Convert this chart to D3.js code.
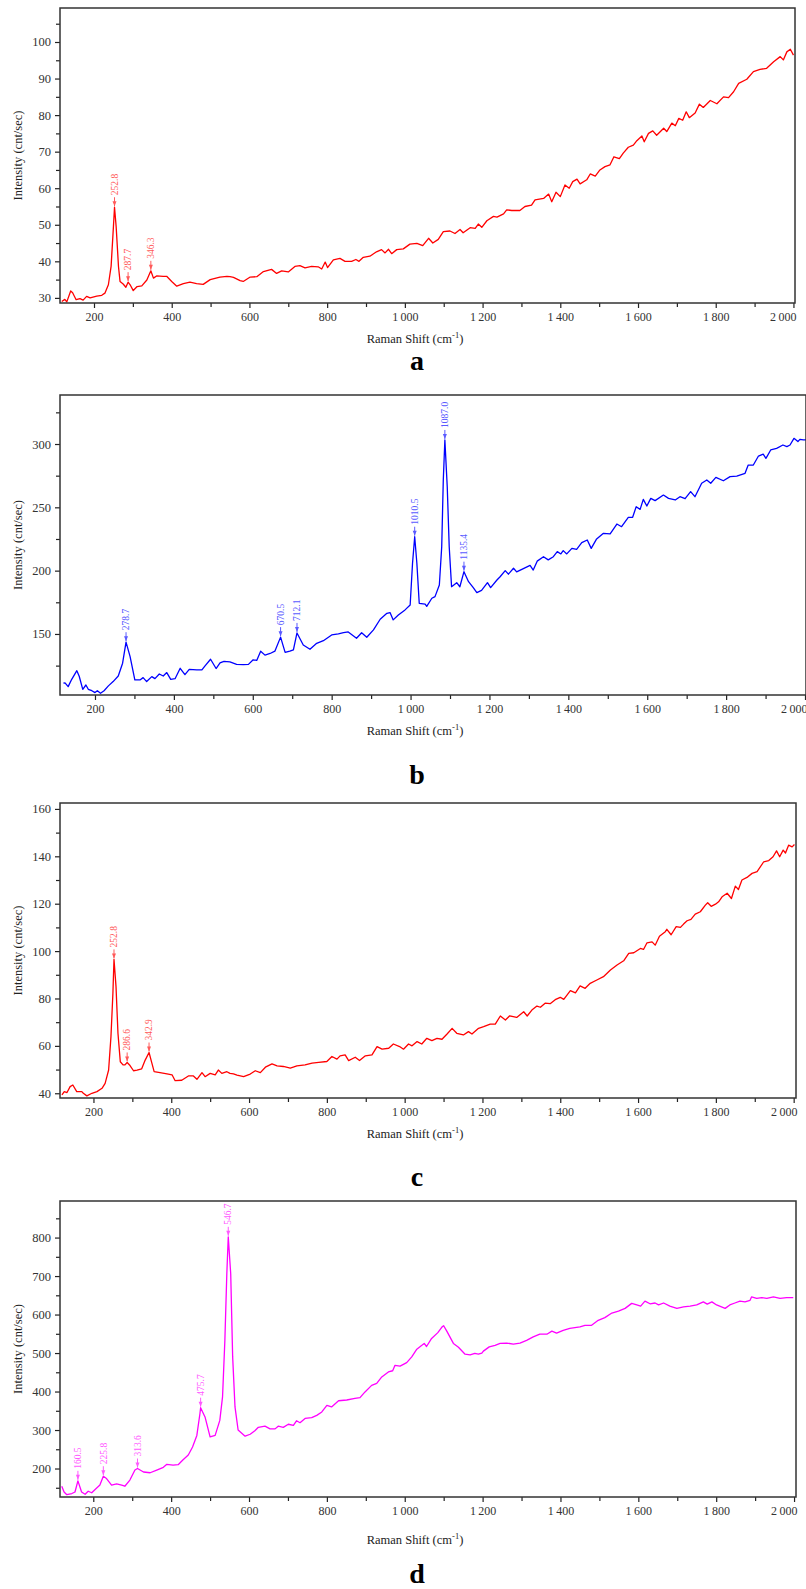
<!DOCTYPE html>
<html>
<head>
<meta charset="utf-8">
<script src="https://cdn.jsdelivr.net/npm/d3@7"></script>
<style>
  html, body { margin: 0; padding: 0; background: #fff; }
  svg { display: block; }
  text { font-family: "Liberation Serif", "DejaVu Serif", serif; }
</style>
</head>
<body>
<svg id="chart" width="806" height="1589"></svg>
<script>
// Four Raman spectra (a–d).
// Each entry: [Raman shift (cm-1), intensity (cnt/sec)]

const spectrumA = [
  [117,29.0],[125,29.6],[130,28.9],[140,31.9],[145,31.4],[154,29.5],[164,29.8],[172,29.4],[181,30.4],[190,30.0],
  [207,30.5],[220,30.7],[228,31.3],[237,33.6],[244,38.6],[250,49.5],[252.8,54.8],[257,49.5],[263,38.6],[267,34.5],
  [275,33.8],[282,32.9],[287.7,34.3],[294,33.4],[301,32.0],[311,33.1],[323,33.3],[336,34.9],[346.3,37.4],[353,35.4],
  [361,36.0],[378,35.9],[387,35.9],[400,34.5],[413,33.2],[430,33.9],[447,34.3],[464,33.9],[481,33.7],[499,35.0],
  [524,35.7],[542,35.9],[550,35.8],[559,35.6],[576,34.7],[584,34.5],[602,35.7],[619,35.8],[636,37.2],[657,37.8],
  [670,36.7],[683,37.4],[700,37.1],[717,38.6],[730,38.8],[743,38.2],[760,38.6],[777,38.5],[786,37.9],[795,39.8],
  [801,38.3],[816,40.4],[833,40.8],[846,40.0],[863,40.0],[874,40.5],[882,40.0],[893,41.1],[910,41.4],[927,42.6],
  [940,43.2],[949,42.3],[958,43.3],[966,42.1],[979,43.2],[996,43.4],[1013,44.7],[1031,44.9],[1046,44.3],[1061,46.3],
  [1072,45.0],[1086,46.0],[1099,48.1],[1116,48.3],[1129,47.6],[1142,48.7],[1150,47.8],[1168,49.2],[1181,49.0],[1189,50.2],
  [1198,49.3],[1211,51.1],[1228,52.3],[1237,52.1],[1254,53.0],[1262,54.1],[1275,53.9],[1296,53.9],[1309,55.0],[1326,55.4],
  [1335,56.8],[1357,57.2],[1370,58.4],[1378,56.3],[1389,58.9],[1400,57.7],[1412,60.9],[1423,60.0],[1432,61.8],[1443,62.5],
  [1451,61.2],[1468,62.3],[1477,63.9],[1490,63.3],[1502,65.0],[1515,65.9],[1528,66.4],[1538,68.6],[1552,68.1],[1562,69.6],
  [1575,71.2],[1588,71.8],[1597,73.0],[1610,74.3],[1616,72.7],[1627,75.0],[1638,75.7],[1648,74.5],[1666,76.4],[1674,75.5],
  [1687,77.8],[1696,77.1],[1705,79.1],[1715,78.6],[1724,80.9],[1732,79.3],[1747,80.6],[1758,83.0],[1768,82.1],[1786,84.0],
  [1803,83.1],[1820,85.0],[1833,84.8],[1846,86.4],[1859,88.7],[1880,89.8],[1897,91.9],[1914,92.5],[1931,92.8],[1949,94.6],
  [1966,96.0],[1974,95.1],[1983,97.3],[1992,98.0],[2000,96.4]
];
const peaksA = [[252.8,54.8],[287.7,34.3],[346.3,37.4]];

const spectrumB = [
  [120,111.1],[124,111.4],[132,108.4],[141,114.2],[154,121.0],[160,116.6],[169,106.3],[177,109.7],[183,106.3],[192,105.2],
  [200,103.7],[206,105.2],[214,103.2],[223,105.2],[234,109.0],[246,112.4],[259,116.8],[270,126.9],[278.7,143.5],[289,132.1],
  [301,113.7],[314,113.7],[322,115.5],[331,112.4],[344,116.3],[352,114.7],[363,118.4],[373,116.8],[382,119.5],[392,114.2],
  [403,114.7],[416,122.9],[428,117.9],[439,122.1],[458,121.6],[471,121.6],[479,124.8],[493,130.0],[507,122.7],[517,127.1],
  [527,128.4],[542,127.9],[559,126.0],[576,125.8],[589,126.0],[601,129.6],[610,129.1],[620,136.4],[631,133.3],[644,134.6],
  [656,136.4],[670.5,147.5],[682,135.5],[694,136.4],[703,137.5],[712.1,150.8],[728,141.3],[745,137.9],[762,142.6],[779,144.7],
  [800,149.2],[817,150.0],[830,151.0],[842,151.6],[863,146.6],[876,151.0],[889,147.4],[906,153.2],[923,161.6],[940,166.3],
  [948,166.9],[956,161.1],[969,165.0],[986,169.0],[999,172.9],[1005,205.8],[1010.5,226.8],[1016,205.8],[1022,174.2],[1037,173.5],
  [1041,171.8],[1054,178.2],[1062,179.5],[1073,188.7],[1079,218.9],[1083,271.6],[1087,303.2],[1093,266.3],[1098,218.9],[1104,187.3],
  [1117,190.5],[1125,187.3],[1135.4,199.2],[1147,191.3],[1159,186.6],[1168,182.6],[1180,184.4],[1195,190.5],[1203,186.6],[1219,192.6],
  [1227,195.2],[1240,200.0],[1248,197.2],[1261,201.9],[1269,199.0],[1286,201.6],[1303,204.1],[1311,200.5],[1321,207.5],[1337,211.0],
  [1349,208.5],[1362,211.0],[1372,215.0],[1381,213.2],[1387,215.8],[1396,213.2],[1409,217.6],[1421,216.8],[1434,222.1],[1448,224.2],
  [1458,217.6],[1471,224.7],[1489,229.5],[1506,229.0],[1523,236.8],[1535,234.7],[1552,242.1],[1563,242.1],[1572,250.5],[1582,248.4],
  [1590,256.3],[1599,251.0],[1609,257.1],[1620,255.3],[1641,259.7],[1654,257.1],[1671,255.8],[1683,258.4],[1696,256.8],[1710,262.4],
  [1721,258.4],[1738,269.0],[1751,271.6],[1761,269.0],[1774,273.7],[1793,271.0],[1810,274.2],[1827,274.7],[1848,276.9],[1856,283.4],
  [1869,283.4],[1882,290.5],[1894,292.0],[1901,288.7],[1913,295.3],[1928,296.6],[1944,299.2],[1954,297.9],[1962,299.2],[1972,304.5],
  [1982,301.9],[1987,303.7],[1996,303.2],[2003,303.2]
];
const peaksB = [[278.7,143.5],[670.5,147.5],[712.1,150.8],[1010.5,226.8],[1087.0,303.2],[1135.4,199.2]];

const spectrumC = [
  [119,39.3],[125,40.7],[132,40.3],[140,42.8],[147,43.5],[157,40.7],[170,40.7],[174,40.0],[183,38.9],[196,40.0],
  [209,40.7],[222,42.1],[230,44.2],[239,49.8],[245,63.9],[250,82.2],[252.8,96.5],[258,85.0],[263,65.3],[269,53.3],
  [276,52.0],[281,52.0],[286.6,53.0],[294,51.7],[303,49.5],[312,49.8],[324,50.3],[333,54.0],[342.9,57.2],[350,52.8],
  [356,49.1],[371,48.7],[389,48.2],[402,47.8],[410,45.3],[427,45.5],[444,47.3],[457,47.3],[466,45.9],[479,48.7],
  [487,47.0],[500,48.4],[513,47.8],[521,49.8],[530,48.4],[543,49.1],[551,48.4],[560,48.2],[569,47.7],[586,47.0],
  [603,48.1],[616,49.5],[629,48.7],[642,51.0],[659,52.4],[672,51.6],[688,51.3],[706,50.6],[723,51.6],[744,52.0],
  [762,52.7],[779,53.0],[800,53.4],[813,55.5],[826,54.4],[834,55.8],[847,56.2],[856,53.8],[873,55.2],[884,53.8],
  [899,55.8],[916,56.2],[929,59.7],[942,58.6],[959,59.0],[971,60.8],[987,59.7],[997,58.6],[1010,60.8],[1019,60.0],
  [1032,61.8],[1044,60.8],[1057,63.2],[1070,62.2],[1083,63.2],[1096,62.8],[1109,65.0],[1122,67.4],[1134,65.3],[1151,64.6],
  [1164,66.0],[1173,65.0],[1190,67.4],[1203,68.1],[1220,69.2],[1233,69.2],[1246,72.6],[1259,70.9],[1270,72.7],[1288,72.0],
  [1306,74.4],[1315,72.6],[1327,75.1],[1340,76.8],[1349,76.3],[1361,78.0],[1374,77.8],[1387,79.5],[1400,80.5],[1409,79.6],
  [1426,83.3],[1439,82.4],[1451,85.3],[1464,84.3],[1477,86.4],[1494,87.8],[1511,89.2],[1529,92.0],[1546,94.1],[1563,95.9],
  [1576,99.0],[1589,99.3],[1606,101.1],[1614,100.7],[1623,103.5],[1636,103.9],[1644,102.5],[1655,106.3],[1670,108.2],[1674,109.2],
  [1685,106.9],[1698,110.3],[1709,110.0],[1717,111.4],[1726,112.8],[1736,113.4],[1747,115.6],[1760,116.6],[1773,119.4],[1779,120.4],
  [1788,118.9],[1799,119.8],[1807,120.8],[1816,122.9],[1829,124.4],[1840,122.2],[1850,127.4],[1858,126.0],[1867,130.0],[1880,131.1],
  [1893,132.8],[1906,133.5],[1923,137.7],[1936,138.2],[1947,139.8],[1956,142.3],[1964,139.8],[1973,142.6],[1979,141.4],[1987,144.7],
  [1996,144.0],[2002,145.0]
];
const peaksC = [[252.8,96.5],[286.6,53.0],[342.9,57.2]];

const spectrumD = [
  [119,154],[125,139],[132,132],[145,135],[153,139],[160.5,168],[170,139],[179,133],[187,141],[196,137],
  [204,145],[217,157],[225.8,180],[234,174],[247,157],[260,160],[273,157],[281,154],[294,170],[307,196],
  [313.6,200],[329,191],[346,189],[363,196],[380,203],[389,211],[405,209],[418,210],[430,222],[444,235],
  [455,256],[466,286],[474,343],[475.7,358],[487,334],[500,282],[513,286],[525,325],[532,386],[538,533],
  [543,706],[546.7,802],[553,706],[558,490],[564,360],[572,300],[590,284],[603,289],[615,298],[624,307],
  [641,310],[654,303],[667,303],[675,310],[688,307],[701,315],[714,312],[722,324],[731,319],[744,330],
  [761,332],[774,338],[787,347],[800,364],[812,360],[830,376],[851,378],[872,382],[885,384],[898,399],
  [915,416],[928,421],[941,438],[958,451],[969,454],[975,468],[988,466],[1005,475],[1018,490],[1031,510],
  [1044,520],[1050,525],[1056,517],[1069,538],[1085,553],[1096,568],[1100,571],[1108,557],[1125,525],[1138,515],
  [1155,497],[1168,495],[1180,499],[1189,497],[1198,500],[1202,505],[1217,516],[1232,520],[1245,525],[1262,526],
  [1279,523],[1296,526],[1313,533],[1330,542],[1347,549],[1365,549],[1378,557],[1390,552],[1407,559],[1424,564],
  [1450,568],[1463,572],[1480,572],[1497,585],[1514,592],[1532,604],[1549,609],[1566,616],[1583,629],[1596,625],
  [1606,622],[1617,635],[1630,628],[1643,630],[1652,625],[1665,630],[1681,622],[1699,616],[1716,620],[1733,622],
  [1750,625],[1767,633],[1777,627],[1789,633],[1801,625],[1823,616],[1835,625],[1848,630],[1861,635],[1874,633],
  [1887,637],[1891,646],[1904,642],[1917,644],[1930,642],[1947,646],[1964,642],[1981,644],[1998,644]
];
const peaksD = [[160.5,168],[225.8,180],[313.6,200],[475.7,358],[546.7,802]];

// Axis ticks
const xMajorTicks = [200, 400, 600, 800, 1000, 1200, 1400, 1600, 1800, 2000];
const xMinorTicks = [100, 300, 500, 700, 900, 1100, 1300, 1500, 1700, 1900];
const yTicksA = [30, 40, 50, 60, 70, 80, 90, 100];
const yMinorA = [35, 45, 55, 65, 75, 85, 95, 105];
const yTicksB = [150, 200, 250, 300];
const yMinorB = [125, 175, 225, 275, 325];
const yTicksC = [40, 60, 80, 100, 120, 140, 160];
const yMinorC = [50, 70, 90, 110, 130, 150];
const yTicksD = [200, 300, 400, 500, 600, 700, 800];
const yMinorD = [150, 250, 350, 450, 550, 650, 750, 850];

const panelLetters = ['a', 'b', 'c', 'd'];
const yAxisTitle = 'Intensity (cnt/sec)';

// ── layout ──────────────────────────────────────────────────────────────────
const PLOT_LEFT = 60;
const LABEL_X = 415;
const panels = [
  { data: spectrumA, peaks: peaksA, color: '#ff0000', peakColor: '#ff5a5a',
    xDomain: [112.5, 2004], yDomain: [28.6, 109.3], yTicks: yTicksA, yMinor: yMinorA,
    top: 8, bottom: 303, right: 795, xTitleY: 343, letterY: 370 },
  { data: spectrumB, peaks: peaksB, color: '#0000ff', peakColor: '#5a5aff',
    xDomain: [111.3, 2002.5], yDomain: [101.8, 338.7], yTicks: yTicksB, yMinor: yMinorB,
    top: 395, bottom: 695, right: 806, xTitleY: 735, letterY: 784 },
  { data: spectrumC, peaks: peaksC, color: '#ff0000', peakColor: '#ff5a5a',
    xDomain: [114, 2006], yDomain: [38, 162.5], yTicks: yTicksC, yMinor: yMinorC,
    top: 803, bottom: 1098, right: 796, xTitleY: 1138, letterY: 1186 },
  { data: spectrumD, peaks: peaksD, color: '#ff00ff', peakColor: '#ff5aff',
    xDomain: [114.5, 2005], yDomain: [126, 895], yTicks: yTicksD, yMinor: yMinorD,
    top: 1201, bottom: 1497, right: 796, xTitleY: 1544, letterY: 1583 }
];

// "1 000" style grouping with a thin space
const formatTick = v => d3.format(',')(v).replace(/,/g, '\u2009');

const svg = d3.select('#chart');

panels.forEach((panel, i) => drawPanel(panel, i));

function drawPanel(panel, index) {
  const x = d3.scaleLinear().domain(panel.xDomain).range([PLOT_LEFT, panel.right]);
  const y = d3.scaleLinear().domain(panel.yDomain).range([panel.bottom, panel.top]);
  const g = svg.append('g');

  const clipId = `clip-${index}`;
  g.append('clipPath').attr('id', clipId).append('rect')
    .attr('x', PLOT_LEFT).attr('y', panel.top)
    .attr('width', panel.right - PLOT_LEFT).attr('height', panel.bottom - panel.top);

  // spectrum line
  const line = d3.line().x(d => x(d[0])).y(d => y(d[1]));
  g.append('path').datum(panel.data)
    .attr('clip-path', `url(#${clipId})`)
    .attr('fill', 'none').attr('stroke', panel.color)
    .attr('stroke-width', 1.3).attr('stroke-linejoin', 'round')
    .attr('d', line);

  // peak markers with rotated labels
  const peakGroups = g.selectAll('g.peak').data(panel.peaks).join('g')
    .attr('class', 'peak')
    .attr('transform', d => `translate(${x(d[0])},${y(d[1])})`);
  peakGroups.append('line')
    .attr('x1', 0).attr('x2', 0).attr('y1', -1).attr('y2', -10)
    .attr('stroke', panel.peakColor).attr('stroke-width', 1);
  peakGroups.append('path')
    .attr('d', 'M-2,-6 L2,-6 L0,-1 Z')
    .attr('fill', panel.peakColor);
  peakGroups.append('text')
    .attr('transform', 'translate(0,-12) rotate(-90)')
    .attr('dy', '0.34em')
    .attr('font-size', 9.5).attr('fill', panel.peakColor)
    .text(d => d[0].toFixed(1));

  // axes
  const xAxis = g.append('g').attr('transform', `translate(0,${panel.bottom})`)
    .call(d3.axisBottom(x).tickValues(xMajorTicks).tickSize(5).tickSizeOuter(0).tickFormat(formatTick));
  g.append('g').attr('transform', `translate(0,${panel.bottom})`)
    .call(d3.axisBottom(x).tickValues(xMinorTicks.filter(v => v >= panel.xDomain[0])).tickSize(4).tickSizeOuter(0).tickFormat(''));
  const yAxis = g.append('g').attr('transform', `translate(${PLOT_LEFT},0)`)
    .call(d3.axisLeft(y).tickValues(panel.yTicks).tickSize(5).tickSizeOuter(0).tickFormat(d3.format('d')));
  g.append('g').attr('transform', `translate(${PLOT_LEFT},0)`)
    .call(d3.axisLeft(y).tickValues(panel.yMinor.filter(v => v <= panel.yDomain[1])).tickSize(4).tickSizeOuter(0).tickFormat(''));

  g.selectAll('.domain').remove();
  g.selectAll('.tick line').attr('stroke', '#222').attr('stroke-width', 1.2);
  xAxis.selectAll('.tick text').attr('font-size', 12).attr('fill', '#333')
    .attr('font-family', '"Liberation Serif", serif').attr('y', 9);
  // last x label is pulled in so it ends at the frame edge
  xAxis.selectAll('.tick').filter(d => d === 2000).select('text')
    .attr('text-anchor', 'end').attr('x', panel.right + 1 - x(2000));
  yAxis.selectAll('.tick text').attr('font-size', 12.5).attr('fill', '#333')
    .attr('font-family', '"Liberation Serif", serif').attr('x', -9);

  // frame
  g.append('rect')
    .attr('x', PLOT_LEFT).attr('y', panel.top)
    .attr('width', panel.right - PLOT_LEFT).attr('height', panel.bottom - panel.top)
    .attr('fill', 'none').attr('stroke', '#333').attr('stroke-width', 1.5);

  // axis titles
  g.append('text')
    .attr('transform', `translate(22,${(panel.top + panel.bottom) / 2}) rotate(-90)`)
    .attr('text-anchor', 'middle').attr('font-size', 12.5).attr('fill', '#222')
    .text(yAxisTitle);

  const xTitle = g.append('text')
    .attr('x', LABEL_X).attr('y', panel.xTitleY)
    .attr('text-anchor', 'middle').attr('font-size', 12.5).attr('fill', '#222');
  xTitle.append('tspan').text('Raman Shift (cm');
  xTitle.append('tspan').attr('dy', -5).attr('font-size', 8.5).text('-1');
  xTitle.append('tspan').attr('dy', 5).text(')');

  // panel letter
  g.append('text')
    .attr('x', LABEL_X + 2).attr('y', panel.letterY)
    .attr('text-anchor', 'middle').attr('font-size', 28).attr('font-weight', 'bold')
    .attr('fill', '#000')
    .text(panelLetters[index]);
}
</script>
</body>
</html>
